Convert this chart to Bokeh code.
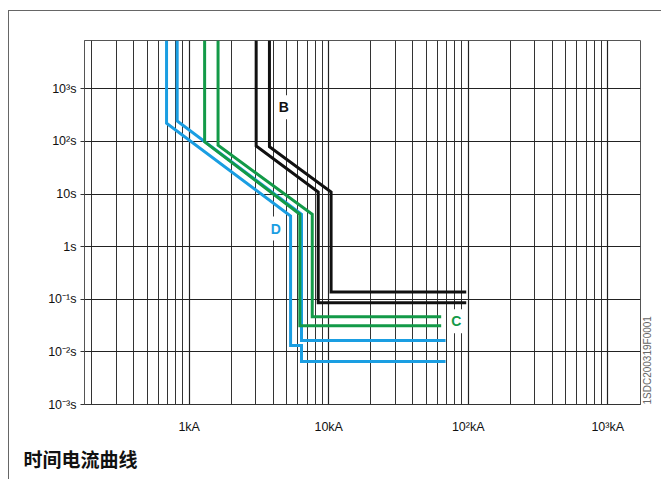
import math
from bokeh.plotting import figure
from bokeh.models import FixedTicker, Label, Range1d, LinearAxis, Title
from bokeh.embed import file_html
from bokeh.resources import INLINE

# ---- data (current in kA, time in s) ----
t_top = 8280.0

b1_i = [3.02, 3.02, 8.41, 8.41, 96.8]
b1_t = [t_top, 82.0, 10.9, 0.0855, 0.0855]
b2_i = [3.76, 3.76, 10.4, 10.4, 96.8]
b2_t = [t_top, 79.6, 10.9, 0.137, 0.137]

c1_i = [1.29, 1.29, 6.21, 6.21, 64.0]
c1_t = [t_top, 98.0, 4.12, 0.0313, 0.0313]
c2_i = [1.61, 1.61, 7.62, 7.62, 64.0]
c2_t = [t_top, 84.7, 4.12, 0.0464, 0.0464]

d1_i = [0.688, 0.688, 5.33, 5.33, 6.38, 6.38, 68.8]
d1_t = [t_top, 222.0, 3.82, 0.0132, 0.0132, 0.00656, 0.00656]
d2_i = [0.82, 0.82, 6.38, 6.38, 68.8]
d2_t = [t_top, 245.0, 4.12, 0.0165, 0.0165]

curve_labels = ["B", "C", "D"]
label_i = [4.77, 82.0, 4.18]
label_t = [448.0, 0.0384, 2.21]

x_major = [1, 10, 100, 1000]
x_labels = ["1kA", "10kA", "10²kA", "10³kA"]
y_major = [0.001, 0.01, 0.1, 1, 10, 100, 1000]
y_labels = ["10⁻³s", "10⁻²s", "10⁻¹s", "1s", "10s", "10²s", "10³s"]

title_text = "时间电流曲线"
code_text = "1SDC200319F0001"

BLUE = "#1a9ee2"
GREEN = "#139a48"
BLACK = "#111111"
FONT = "Liberation Sans"

p = figure(width=661, height=479, x_axis_type="log", y_axis_type="log",
           x_range=Range1d(0.1776, 1718), y_range=Range1d(0.001, t_top),
           output_backend="svg", toolbar_location=None,
           min_border_left=84, min_border_right=21, min_border_top=40, min_border_bottom=75)
p.styles = {
    "background-image": "linear-gradient(#666,#666), linear-gradient(#666,#666)",
    "background-size": "1px 100%, 100% 1px",
    "background-position": "8px 10px, 8px 10px",
    "background-repeat": "no-repeat",
    "background-color": "white",
}
p.outline_line_color = "#555555"
p.outline_line_width = 1
p.background_fill_color = "white"
p.border_fill_color = None

minor = [m * 10.0 ** k for k in range(-1, 4) for m in range(2, 10)]

# x axis
p.xaxis.ticker = FixedTicker(ticks=x_major, minor_ticks=minor)
p.xaxis.major_label_overrides = {v: s for v, s in zip(x_major, x_labels)}
p.xaxis.major_tick_line_color = None
p.xaxis.minor_tick_line_color = None
p.xaxis.axis_line_color = "#333333"
p.xaxis.major_label_text_font = FONT
p.xaxis.major_label_text_font_size = "12.5px"
p.xaxis.major_label_text_color = "#111111"
p.xaxis.major_label_standoff = 9

# y axis
p.yaxis.ticker = FixedTicker(ticks=y_major, minor_ticks=[])
p.yaxis.major_label_overrides = {v: s for v, s in zip(y_major, y_labels)}
p.yaxis.major_tick_in = 0
p.yaxis.major_tick_out = 4
p.yaxis.major_tick_line_color = "#333333"
p.yaxis.minor_tick_line_color = None
p.yaxis.axis_line_color = "#555555"
p.yaxis.major_label_text_font = FONT
p.yaxis.major_label_text_font_size = "12.5px"
p.yaxis.major_label_text_color = "#111111"
p.yaxis.major_label_standoff = 4

# grids
p.xgrid.ticker = FixedTicker(ticks=x_major, minor_ticks=minor)
p.xgrid.grid_line_color = "#222222"
p.xgrid.grid_line_width = 1.2
p.xgrid.minor_grid_line_color = "#333333"
p.xgrid.minor_grid_line_width = 1
p.ygrid.ticker = FixedTicker(ticks=y_major, minor_ticks=[])
p.ygrid.grid_line_color = "#222222"
p.ygrid.grid_line_width = 1.2

# curves
for xs, ys, col in [(d1_i, d1_t, BLUE), (d2_i, d2_t, BLUE),
                    (c1_i, c1_t, GREEN), (c2_i, c2_t, GREEN),
                    (b1_i, b1_t, BLACK), (b2_i, b2_t, BLACK)]:
    p.line(xs, ys, line_color=col, line_width=3, line_join="miter")

# curve labels
for txt, xi, ti, col in zip(curve_labels, label_i, label_t, [BLACK, GREEN, BLUE]):
    p.add_layout(Label(x=xi, y=ti, text=txt, text_color=col, text_font=FONT,
                       text_font_style="bold", text_font_size="14px",
                       text_align="center", text_baseline="middle",
                       background_fill_color="white", padding=4))

# title below
p.add_layout(Title(text=title_text, align="left", offset=-61, standoff=12,
                   text_font="Noto Sans CJK SC", text_font_style="bold",
                   text_font_size="19px", text_color="#111111"), "below")

# code text on the right
rax = LinearAxis(ticker=FixedTicker(ticks=[]), axis_label=code_text,
                 axis_line_color=None, major_tick_line_color=None,
                 minor_tick_line_color=None, major_label_text_font_size="0px",
                 major_label_standoff=0, major_tick_out=0,
                 axis_label_text_font=FONT, axis_label_text_font_size="10px",
                 axis_label_text_font_style="normal", axis_label_text_color="#666666",
                 axis_label_standoff=7)
try:
    rax.axis_label_orientation = math.pi / 2
except Exception:
    pass
try:
    rax.axis_label_align = "start"
except Exception:
    try:
        rax.axis_label_align = "left"
    except Exception:
        pass
p.add_layout(rax, "right")

open("out.html", "w").write(file_html(p, INLINE))
